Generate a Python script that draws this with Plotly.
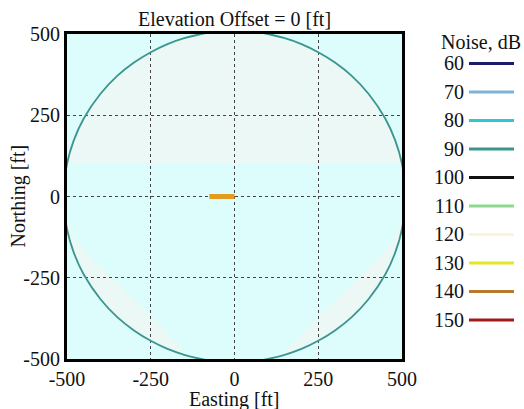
import plotly.graph_objects as go

# ---- data ----
levels = [60, 70, 80, 90, 100, 110, 120, 130, 140, 150]
level_colors = ["#1c1c6a", "#7fb2d9", "#2cc8d2", "#3b958f", "#111111",
                "#8fd88f", "#fbf4d6", "#e6e622", "#b57a2c", "#a11a1a"]

# 90 dB contour (full ring)
c90_x = [-500, -480, -450, -400, -350, -300, -250, -200, -150, -100, -50, 0,
         50, 100, 150, 200, 250, 300, 350, 400, 450, 480, 500, 510,
         500, 480, 450, 400, 350, 300, 250, 200, 150, 100, 50, 0,
         -50, -100, -150, -200, -250, -300, -350, -400, -450, -480, -500, -510, -500]
c90_y = [100, 172, 240, 316, 371, 412, 444, 469, 487, 500, 508, 510,
         508, 500, 487, 469, 444, 412, 371, 316, 240, 172, 100, 0,
         -100, -172, -240, -316, -371, -412, -444, -469, -487, -500, -508, -510,
         -508, -500, -487, -469, -444, -412, -371, -316, -240, -172, -100, 0, 100]

# paler shaded bands inside the 90 dB ring
cap_x = [-500, -480, -450, -400, -350, -300, -250, -200, -150, -100, -50, 0,
         50, 100, 150, 200, 250, 300, 350, 400, 450, 480, 500]
cap_y = [100, 172, 240, 316, 371, 412, 444, 469, 487, 500, 508, 510,
         508, 500, 487, 469, 444, 412, 371, 316, 240, 172, 100]
band_l_x = [-500, -480, -450, -400, -350, -300, -250, -200, -150, -110,
            -125, -150, -195, -250, -310, -370, -420, -470, -500]
band_l_y = [-100, -172, -240, -316, -371, -412, -444, -469, -487, -510,
            -510, -480, -430, -370, -310, -250, -200, -140, -80]
band_r_x = [500, 480, 450, 400, 350, 300, 250, 200, 150, 110,
            125, 150, 195, 250, 310, 370, 420, 470, 500]
band_r_y = band_l_y[:]

# source segment
src_x = [-75, 0]
src_y = [0, 0]

FONT = "Liberation Serif"
TICKS = [-500, -250, 0, 250, 500]


def path_of(xs, ys):
    return "M " + " L ".join(f"{x},{y}" for x, y in zip(xs, ys)) + " Z"


fig = go.Figure()

pale = "#ebf8f6"
shapes = [dict(type="rect", xref="x domain", yref="y domain", x0=0, x1=1, y0=0, y1=1,
               fillcolor="#ddfcfc", line=dict(width=0), layer="below")]
for xs, ys in [(cap_x, cap_y), (band_l_x, band_l_y), (band_r_x, band_r_y)]:
    shapes.append(dict(type="path", path=path_of(xs, ys), xref="x", yref="y",
                       fillcolor=pale, line=dict(width=0), layer="below"))

fig.add_trace(go.Scatter(x=c90_x, y=c90_y, mode="lines", line_shape="spline",
                         line=dict(color=level_colors[3], width=1.8),
                         showlegend=False, hoverinfo="skip"))
fig.add_trace(go.Scatter(x=src_x, y=src_y, mode="lines",
                         line=dict(color="#e39b20", width=5),
                         showlegend=False, hoverinfo="skip"))

# legend drawn on a small side axis
for lv, col in zip(levels, level_colors):
    fig.add_trace(go.Scatter(x=[0, 1], y=[lv, lv], mode="lines",
                             line=dict(color=col, width=3),
                             xaxis="x2", yaxis="y2", showlegend=False,
                             hoverinfo="skip"))

axis_common = dict(
    range=[-500, 500], tickvals=TICKS, ticktext=[str(t) for t in TICKS],
    showgrid=True, gridcolor="#444444", gridwidth=1.4, griddash="3px,3px",
    zeroline=False, showline=True, linecolor="black", linewidth=3, mirror=True,
    ticks="", tickfont=dict(family=FONT, size=20, color="#111"),
    automargin=False,
)

fig.update_layout(
    width=524, height=409,
    margin=dict(l=67, r=10, t=34, b=50),
    paper_bgcolor="white", plot_bgcolor="rgba(0,0,0,0)",
    font=dict(family=FONT, size=20, color="#111"),
    shapes=shapes,
    xaxis=dict(domain=[0, 0.7494], **axis_common),
    yaxis=dict(domain=[0, 1], **axis_common),
    xaxis2=dict(domain=[0.8993, 1.0], range=[0, 1], anchor="y2",
                showgrid=False, zeroline=False, showticklabels=False,
                showline=False, fixedrange=True, automargin=False),
    yaxis2=dict(domain=[0, 1], range=[163.7, 49.65], anchor="x2",
                tickvals=levels, ticktext=[str(v) for v in levels],
                showgrid=False, zeroline=False, showline=False, ticks="",
                tickfont=dict(family=FONT, size=20, color="#111"),
                ticklabelstandoff=4, automargin=False),
    annotations=[
        dict(text="Elevation Offset = 0 [ft]", xref="paper", yref="paper",
             x=0.3747, y=1.0, yshift=15, xanchor="center", yanchor="middle",
             showarrow=False, font=dict(family=FONT, size=20, color="#111")),
        dict(text="Noise, dB", xref="paper", yref="paper",
             x=0.9257, y=0.976, xanchor="center", yanchor="middle",
             showarrow=False, font=dict(family=FONT, size=20, color="#111")),
        dict(text="Easting [ft]", xref="paper", yref="paper",
             x=0.3747, y=-0.125, xanchor="center", yanchor="middle",
             showarrow=False, font=dict(family=FONT, size=20, color="#111")),
        dict(text="Northing [ft]", xref="paper", yref="paper",
             x=-0.1096, y=0.5, xanchor="center", yanchor="middle", textangle=-90,
             showarrow=False, font=dict(family=FONT, size=20, color="#111")),
    ],
)

fig.write_html("out.html", config={"displayModeBar": False},
               post_script="document.body.style.margin='0px';")
